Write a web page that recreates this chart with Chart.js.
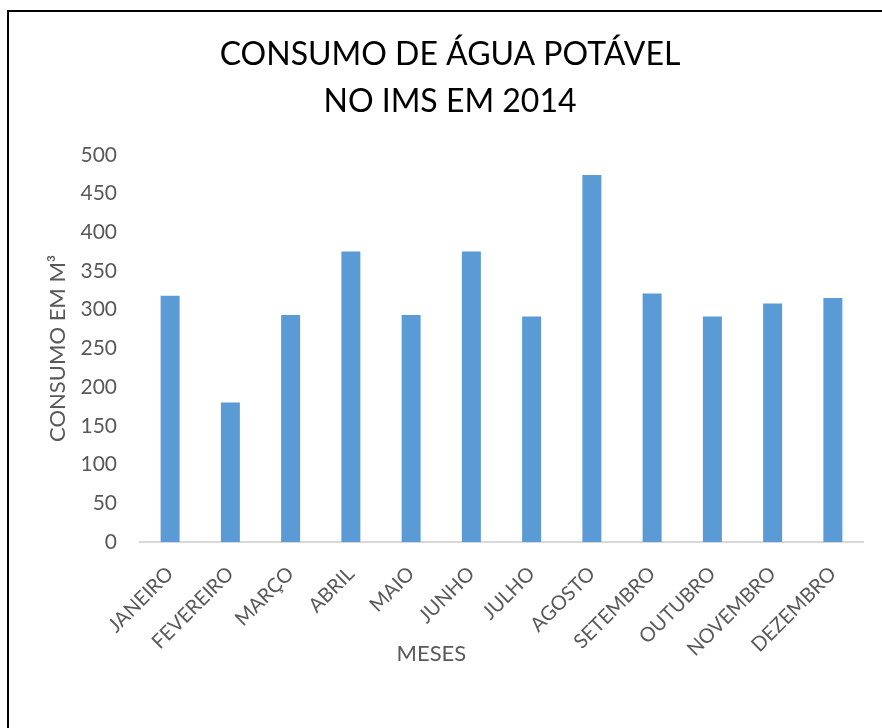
<!DOCTYPE html>
<html>
<head>
<meta charset="utf-8">
<script src="https://cdn.jsdelivr.net/npm/chart.js@4"></script>
<style>
  html, body { margin: 0; padding: 0; background: #fff; overflow: hidden; }
  .wrap { position: relative; width: 882px; height: 728px; }
  .frame { position: absolute; left: 7px; top: 10px; right: -10px; bottom: -10px; border: 2px solid #000; pointer-events: none; }
</style>
</head>
<body>
<div class="wrap">
  <canvas id="myChart" width="882" height="728"></canvas>
  <div class="frame"></div>
</div>
<script>
const months = ["JANEIRO", "FEVEREIRO", "MARÇO", "ABRIL", "MAIO", "JUNHO", "JULHO", "AGOSTO", "SETEMBRO", "OUTUBRO", "NOVEMBRO", "DEZEMBRO"];
const consumo = [318, 180, 293, 375, 293, 375, 291, 474, 321, 291, 308, 315];
const titleLines = ["CONSUMO DE ÁGUA POTÁVEL", "NO IMS EM 2014"];
const yTitle = "CONSUMO EM M³";
const xTitle = "MESES";

const gray = "#595959";

// x axis title sits left of centre in the original, so draw it ourselves
const xTitlePlugin = {
  id: "xTitle",
  afterDraw: (chart) => {
    const ctx = chart.ctx;
    const area = chart.chartArea;
    ctx.save();
    ctx.font = "22px Lato";
    ctx.fillStyle = gray;
    ctx.textAlign = "center";
    ctx.textBaseline = "middle";
    ctx.fillText(xTitle, area.left + (area.right - area.left) * 0.403, chart.scales.x.bottom - 74);
    ctx.restore();
  },
};

const ctx = document.getElementById("myChart");
new Chart(ctx, {
  type: "bar",
  data: {
    labels: months,
    datasets: [
      {
        data: consumo,
        backgroundColor: "#5B9BD5",
        borderWidth: 0,
        barPercentage: 0.315,
        categoryPercentage: 1,
      },
    ],
  },
  options: {
    responsive: false,
    animation: false,
    layout: { padding: { top: 10, left: 37, right: 19, bottom: 0 } },
    plugins: {
      legend: { display: false },
      tooltip: { enabled: false },
      title: {
        display: true,
        text: titleLines,
        color: "#000",
        font: { family: "Lato", size: 32, weight: "normal", lineHeight: 1.46 },
        padding: { top: 21.6, bottom: 29.7 },
      },
    },
    scales: {
      x: {
        grid: { display: false, drawTicks: false },
        border: { display: true, color: "#D9D9D9", width: 2 },
        ticks: {
          color: gray,
          font: { family: "Lato", size: 20 },
          minRotation: 45,
          maxRotation: 45,
          autoSkip: false,
          padding: 20,
        },
        afterFit: (scale) => {
          scale.height = 186;
        },
      },
      y: {
        min: 0,
        max: 500,
        grid: { display: false, drawTicks: false },
        border: { display: false },
        ticks: {
          stepSize: 50,
          color: gray,
          font: { family: "Lato", size: 21 },
          padding: 23,
        },
        title: {
          display: true,
          text: yTitle,
          color: gray,
          font: { family: "Lato", size: 22 },
          padding: { top: 7.8, bottom: 0 },
        },
        afterFit: (scale) => {
          scale.width = 103;
        },
      },
    },
  },
  plugins: [xTitlePlugin],
});
</script>
</body>
</html>
